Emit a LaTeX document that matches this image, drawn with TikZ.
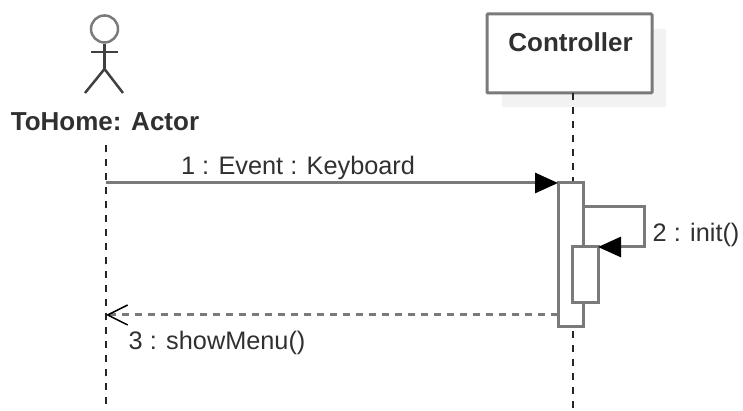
\documentclass[tikz,border=0pt]{standalone}
\usepackage{fontspec}
\setmainfont{Liberation Sans}
\usetikzlibrary{arrows.meta, positioning, calc}
\definecolor{linegray}{HTML}{7A7A7A}
\definecolor{textgray}{HTML}{303030}
\tikzset{
  lifeline/.style={draw=black!85, dash pattern=on 0.07cm off 0.07cm, line width=0.2mm},
  activation/.style={rectangle, draw=linegray, fill=white, line width=0.3mm, inner sep=0pt, outer sep=0pt, minimum width=0.25cm},
  message/.style={draw=linegray, line width=0.3mm, -{Triangle[length=0.23cm, width=0.2cm, color=black, fill=black]}},
  reply/.style={draw=linegray, line width=0.3mm, dash pattern=on 0.07cm off 0.06cm, -{Straight Barb[length=0.2cm, width=0.2cm, color=black, line width=0.15mm]}},
  limb/.style={draw=black!75, line width=0.25mm},
  label/.style={text=textgray, inner sep=0pt, font=\fontsize{7.2}{9}\selectfont},
  title/.style={text=textgray, inner sep=0pt, font=\bfseries\fontsize{7.4}{9}\selectfont}
}

\begin{document}
\begin{tikzpicture}
      \useasboundingbox (0, 0) rectangle (7.43, 4.11);

      % actor
      \node[circle, draw=linegray, line width=0.25mm, inner sep=0pt, minimum size=0.27cm] (head) at (1.045, 3.82) {};
      \coordinate (hip) at (1.045, 3.42);
      \coordinate (armleft) at (0.91, 3.59);
      \coordinate (armright) at (1.18, 3.59);
      \coordinate (footleft) at (0.85, 3.18);
      \coordinate (footright) at (1.23, 3.18);
      \draw[limb] (head.south) -- (hip);
      \draw[limb] (armleft) -- (armright);
      \draw[limb] (footleft) -- (hip) -- (footright);
      \node[title] (actor) at (1.05, 2.89) {ToHome: Actor};

      % controller box, shadow first
      \fill[black!5] (5.02, 3.04) rectangle (6.66, 3.82);
      \node[rectangle, draw=linegray, fill=white, line width=0.3mm, rounded corners=0.1mm, inner sep=0pt, outer sep=0pt, minimum width=1.65cm, minimum height=0.79cm] (controller) at (5.695, 3.575) {};
      \node[title] (controllertext) at (5.705, 3.69) {Controller};

      % lifelines
      \coordinate (actortop) at (1.06, 2.66);
      \coordinate (actorend) at (1.06, 0);
      \coordinate (controllerend) at (5.725, 0);
      \draw[lifeline] (actortop) -- (actorend);
      \draw[lifeline] (controller.south -| controllerend) -- (controllerend);

      % activations
      \node[activation, minimum height=1.44cm] (outer) at (5.705, 1.56) {};
      \node[activation, minimum width=0.26cm, minimum height=0.56cm] (inner) at (5.85, 1.36) {};

      % messages
      \coordinate (start) at (1.06, 2.28);
      \coordinate (loopa) at (6.44, 2.04);
      \coordinate (loopb) at (6.44, 1.64);
      \coordinate (back) at (1.06, 0.96);
      \draw[message] (start) -- (start -| outer.west);
      \draw[message] (outer.east |- loopa) -- (loopa) -- (loopb) -- (inner.north east);
      \draw[reply] (outer.west |- back) -- (back);

      \node[label] (first) at (2.98, 2.43) {1 : Event : Keyboard};
      \node[label, anchor=west] (second) at (6.52, 1.76) {2 : init()};
      \node[label, anchor=west] (third) at (1.28, 0.68) {3 : showMenu()};

    \end{tikzpicture}
\end{document}
